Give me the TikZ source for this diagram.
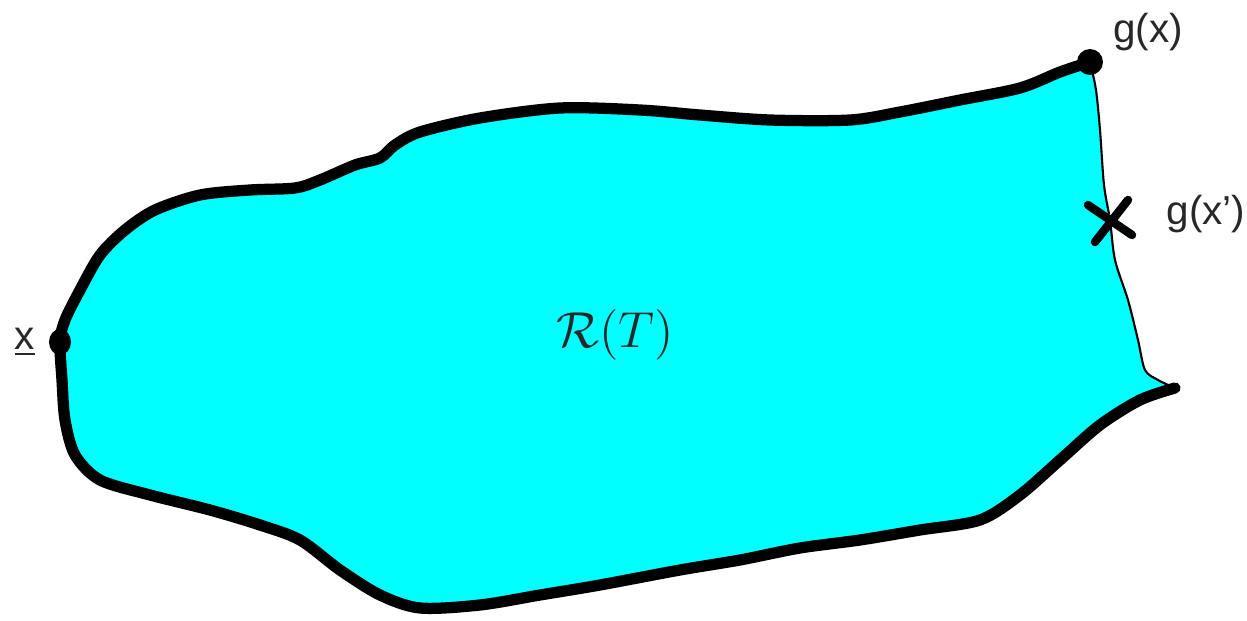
\documentclass[tikz,border=0pt]{standalone}
\usepackage{fontspec}
\setmainfont{Liberation Sans}
\usetikzlibrary{calc}
\definecolor{regionFill}{RGB}{0, 255, 255}
\definecolor{textMain}{RGB}{40, 40, 40}
\definecolor{edgeDark}{RGB}{0, 0, 0}

\begin{document}
\begin{tikzpicture}[
    x=0.01cm, y=-0.01cm,
    bound/.style={draw=edgeDark, line width=3.2pt, line cap=round, line join=round},
    thinedge/.style={draw=edgeDark, line width=0.6pt},
    lbl/.style={text=textMain, font=\fontsize{11.5}{13}\selectfont, inner sep=0pt},
    pt/.style={fill=edgeDark}
  ]
    \useasboundingbox (0,0) rectangle (1247,621);

    % Region R(T): filled area, thick boundary and thin right edge
    \path[fill=regionFill] plot[smooth, tension=0.5] coordinates {
        (1090,62) (1060,72) (1020,88) (960,100) (900,112) (850,120) (770,120)
        (700,115) (640,110) (560,108) (480,118) (420,132) (395,145) (380,158)
        (355,165) (320,180) (295,188) (250,190) (200,195) (155,210) (125,230)
        (100,255) (80,290) (65,320) (60,342) (62,380) (65,420) (75,455)
        (100,480) (150,495) (210,510) (260,525) (300,540) (340,570) (380,595)
        (420,608) (480,605) (540,595) (600,585) (680,570) (740,560) (800,548)
        (860,540) (920,530) (980,520) (1020,495) (1060,460) (1100,425)
        (1140,400) (1175,388)}
      -- plot[smooth, tension=0.5] coordinates {
        (1175,388) (1158,380) (1145,370) (1138,340) (1128,300) (1115,260)
        (1110,220) (1104,185) (1100,130) (1096,90) (1090,62)}
      -- cycle;

    \draw[bound] plot[smooth, tension=0.5] coordinates {
        (1090,62) (1060,72) (1020,88) (960,100) (900,112) (850,120) (770,120)
        (700,115) (640,110) (560,108) (480,118) (420,132) (395,145) (380,158)
        (355,165) (320,180) (295,188) (250,190) (200,195) (155,210) (125,230)
        (100,255) (80,290) (65,320) (60,342) (62,380) (65,420) (75,455)
        (100,480) (150,495) (210,510) (260,525) (300,540) (340,570) (380,595)
        (420,608) (480,605) (540,595) (600,585) (680,570) (740,560) (800,548)
        (860,540) (920,530) (980,520) (1020,495) (1060,460) (1100,425)
        (1140,400) (1175,388)};

    \draw[thinedge] plot[smooth, tension=0.5] coordinates {
        (1175,388) (1158,380) (1145,370) (1138,340) (1128,300) (1115,260)
        (1110,220) (1104,185) (1100,130) (1096,90) (1090,62)};

    % Marked points
    \coordinate (gx) at (1090,62);
    \coordinate (xlow) at (60,342);
    \coordinate (gxp) at (1110,220);
    \fill[pt] (gx) circle[radius=13];
    \fill[pt] (xlow) ellipse[x radius=11, y radius=13];
    \draw[bound, line width=2.4pt] ($(gxp)+(-22,-15)$) -- ($(gxp)+(22,15)$);
    \draw[bound, line width=2.4pt] ($(gxp)+(-15,22)$) -- ($(gxp)+(18,-20)$);

    % Labels
    \node[lbl] (lgx) at (1148,32) {g(x)};
    \node[lbl] (lgxp) at (1206,214) {g(x\char"27)};
    \node[lbl] (lx) at (25,342) {\underline{x}};
    \node[text=textMain, font=\fontsize{14}{16}\selectfont] (rt) at (615,335) {$\mathcal{R}(T)$};
  \end{tikzpicture}
\end{document}
